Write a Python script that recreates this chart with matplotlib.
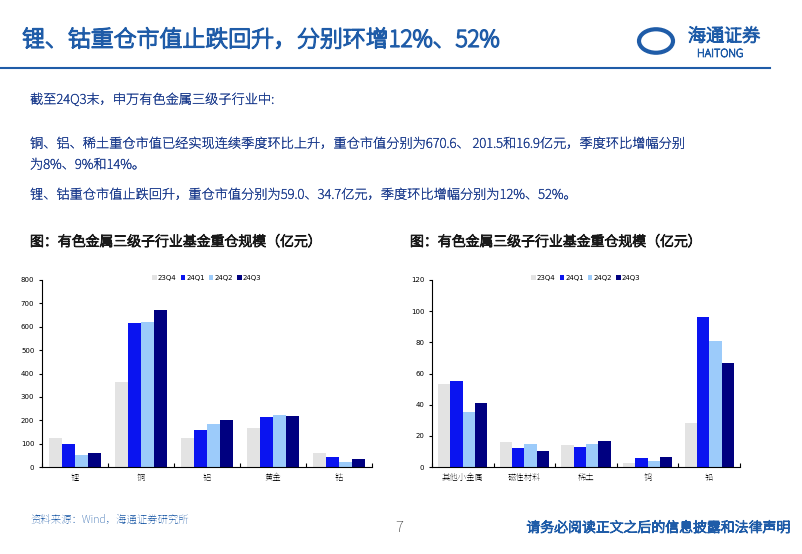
import matplotlib.pyplot as plt
from matplotlib import font_manager as fm
import matplotlib.patheffects as pe
import numpy as np

available = {f.name for f in fm.fontManager.ttflist}
for cand in ["Noto Sans CJK SC", "Noto Sans SC", "Noto Sans CJK JP", "Noto Serif SC"]:
    if cand in available:
        plt.rcParams["font.family"] = [cand, "DejaVu Sans"]
        break

series = ["23Q4", "24Q1", "24Q2", "24Q3"]
colors = ["#E3E3E3", "#0A14F0", "#9CCBFA", "#000080"]

left_cats = ["锂", "铜", "铝", "黄金", "钴"]
left_vals = [
    [124, 365, 124, 165, 60],
    [100, 618, 157, 212, 42],
    [52, 620, 184, 222, 22],
    [58, 671, 201, 217, 34],
]
right_cats = ["其他小金属", "磁性材料", "稀土", "钨", "铅"]
right_vals = [
    [53.5, 16, 14, 2.5, 28],
    [55, 12.5, 13, 6, 96.5],
    [35, 14.5, 14.5, 4, 81],
    [41, 10, 16.9, 6.5, 66.5],
]

W, H = 802, 554
fig = plt.figure(figsize=(W / 100, H / 100), dpi=100)
BLUE = "#1F5CA8"


def px(x, y):
    return x / W, 1 - y / H


def bold(color, lw=0.8):
    # the CJK font has no bold face here, so thicken the glyphs
    return [pe.withStroke(linewidth=lw, foreground=color)]


# header
fig.text(*px(22, 40), "锂、钴重仓市值止跌回升，分别环增12%、52%", color=BLUE,
         fontsize=16.5, va="center", path_effects=bold(BLUE, 1.2))
fig.add_artist(plt.Line2D([0, 770 / W], [1 - 68 / H] * 2, color=BLUE, lw=1.5))
fig.text(*px(688, 36), "海通证券", color=BLUE, fontsize=13, va="center",
         path_effects=bold(BLUE, 1.0))
fig.text(*px(697, 54), "HAITONG", color=BLUE, fontsize=8, fontweight="bold", va="center",
         path_effects=bold(BLUE, 0.6))
fig.patches.append(plt.Circle(px(656, 41), 17 / W, transform=fig.transFigure,
                              fill=False, ec=BLUE, lw=3))

# body text
body = [
    (100, "截至24Q3末，申万有色金属三级子行业中:"),
    (144, "铜、铝、稀土重仓市值已经实现连续季度环比上升，重仓市值分别为670.6、 201.5和16.9亿元，季度环比增幅分别"),
    (165, "为8%、9%和14%。"),
    (195, "锂、钴重仓市值止跌回升，重仓市值分别为59.0、34.7亿元，季度环比增幅分别为12%、52%。"),
]
for y, t in body:
    fig.text(*px(30, y), t, color="#1F3F8F", fontsize=9.5, va="center",
             path_effects=bold("#1F3F8F", 0.3))

for x in (30, 410):
    fig.text(*px(x, 242), "图：有色金属三级子行业基金重仓规模（亿元）", fontsize=10,
             color="#1A1A1A", va="center", path_effects=bold("#1A1A1A", 0.8))


def bars(rect, cats, vals, ymax, step):
    x0, y0, x1, y1 = rect
    ax = fig.add_axes([x0 / W, 1 - y1 / H, (x1 - x0) / W, (y1 - y0) / H])
    x = np.arange(len(cats))
    w = 0.2
    for i, (s, c) in enumerate(zip(series, colors)):
        ax.bar(x + (i - 1.5) * w, vals[i], w, color=c, label=s)
    ax.set_xlim(-0.5, len(cats) - 0.5)
    ax.set_ylim(0, ymax)
    ax.set_yticks(np.arange(0, ymax + 1, step))
    ax.set_yticklabels([str(int(v)) for v in np.arange(0, ymax + 1, step)], fontfamily="DejaVu Sans")
    ax.set_xticks(np.arange(len(cats) + 1) - 0.5, minor=False, labels=[""] * (len(cats) + 1))
    ax.set_xticks(x, minor=True, labels=cats)
    ax.tick_params(axis="x", which="minor", length=0, labelsize=6, pad=4)
    ax.tick_params(axis="x", which="major", length=3, direction="in")
    ax.tick_params(axis="y", labelsize=5, length=2, direction="out")
    for s in ["top", "right"]:
        ax.spines[s].set_visible(False)
    ax.legend(loc="upper center", bbox_to_anchor=(0.5, 1.06), ncol=4, frameon=False,
              prop={"family": "DejaVu Sans", "size": 5},
              handlelength=0.6, handletextpad=0.2, columnspacing=0.6)
    return ax


bars((42, 280, 372, 467), left_cats, left_vals, 800, 100)
bars((432, 280, 740, 467), right_cats, right_vals, 120, 20)

# footer
fig.text(*px(30, 520), "资料来源：Wind，海通证券研究所", fontsize=7.5, color=BLUE, va="center")
fig.text(*px(395, 528), "7", fontsize=11, color="#333333", va="center")
fig.text(*px(790, 528), "请务必阅读正文之后的信息披露和法律声明", fontsize=10, color=BLUE,
         va="center", ha="right", path_effects=bold(BLUE, 0.8))

fig.savefig("out.png", dpi=100)
